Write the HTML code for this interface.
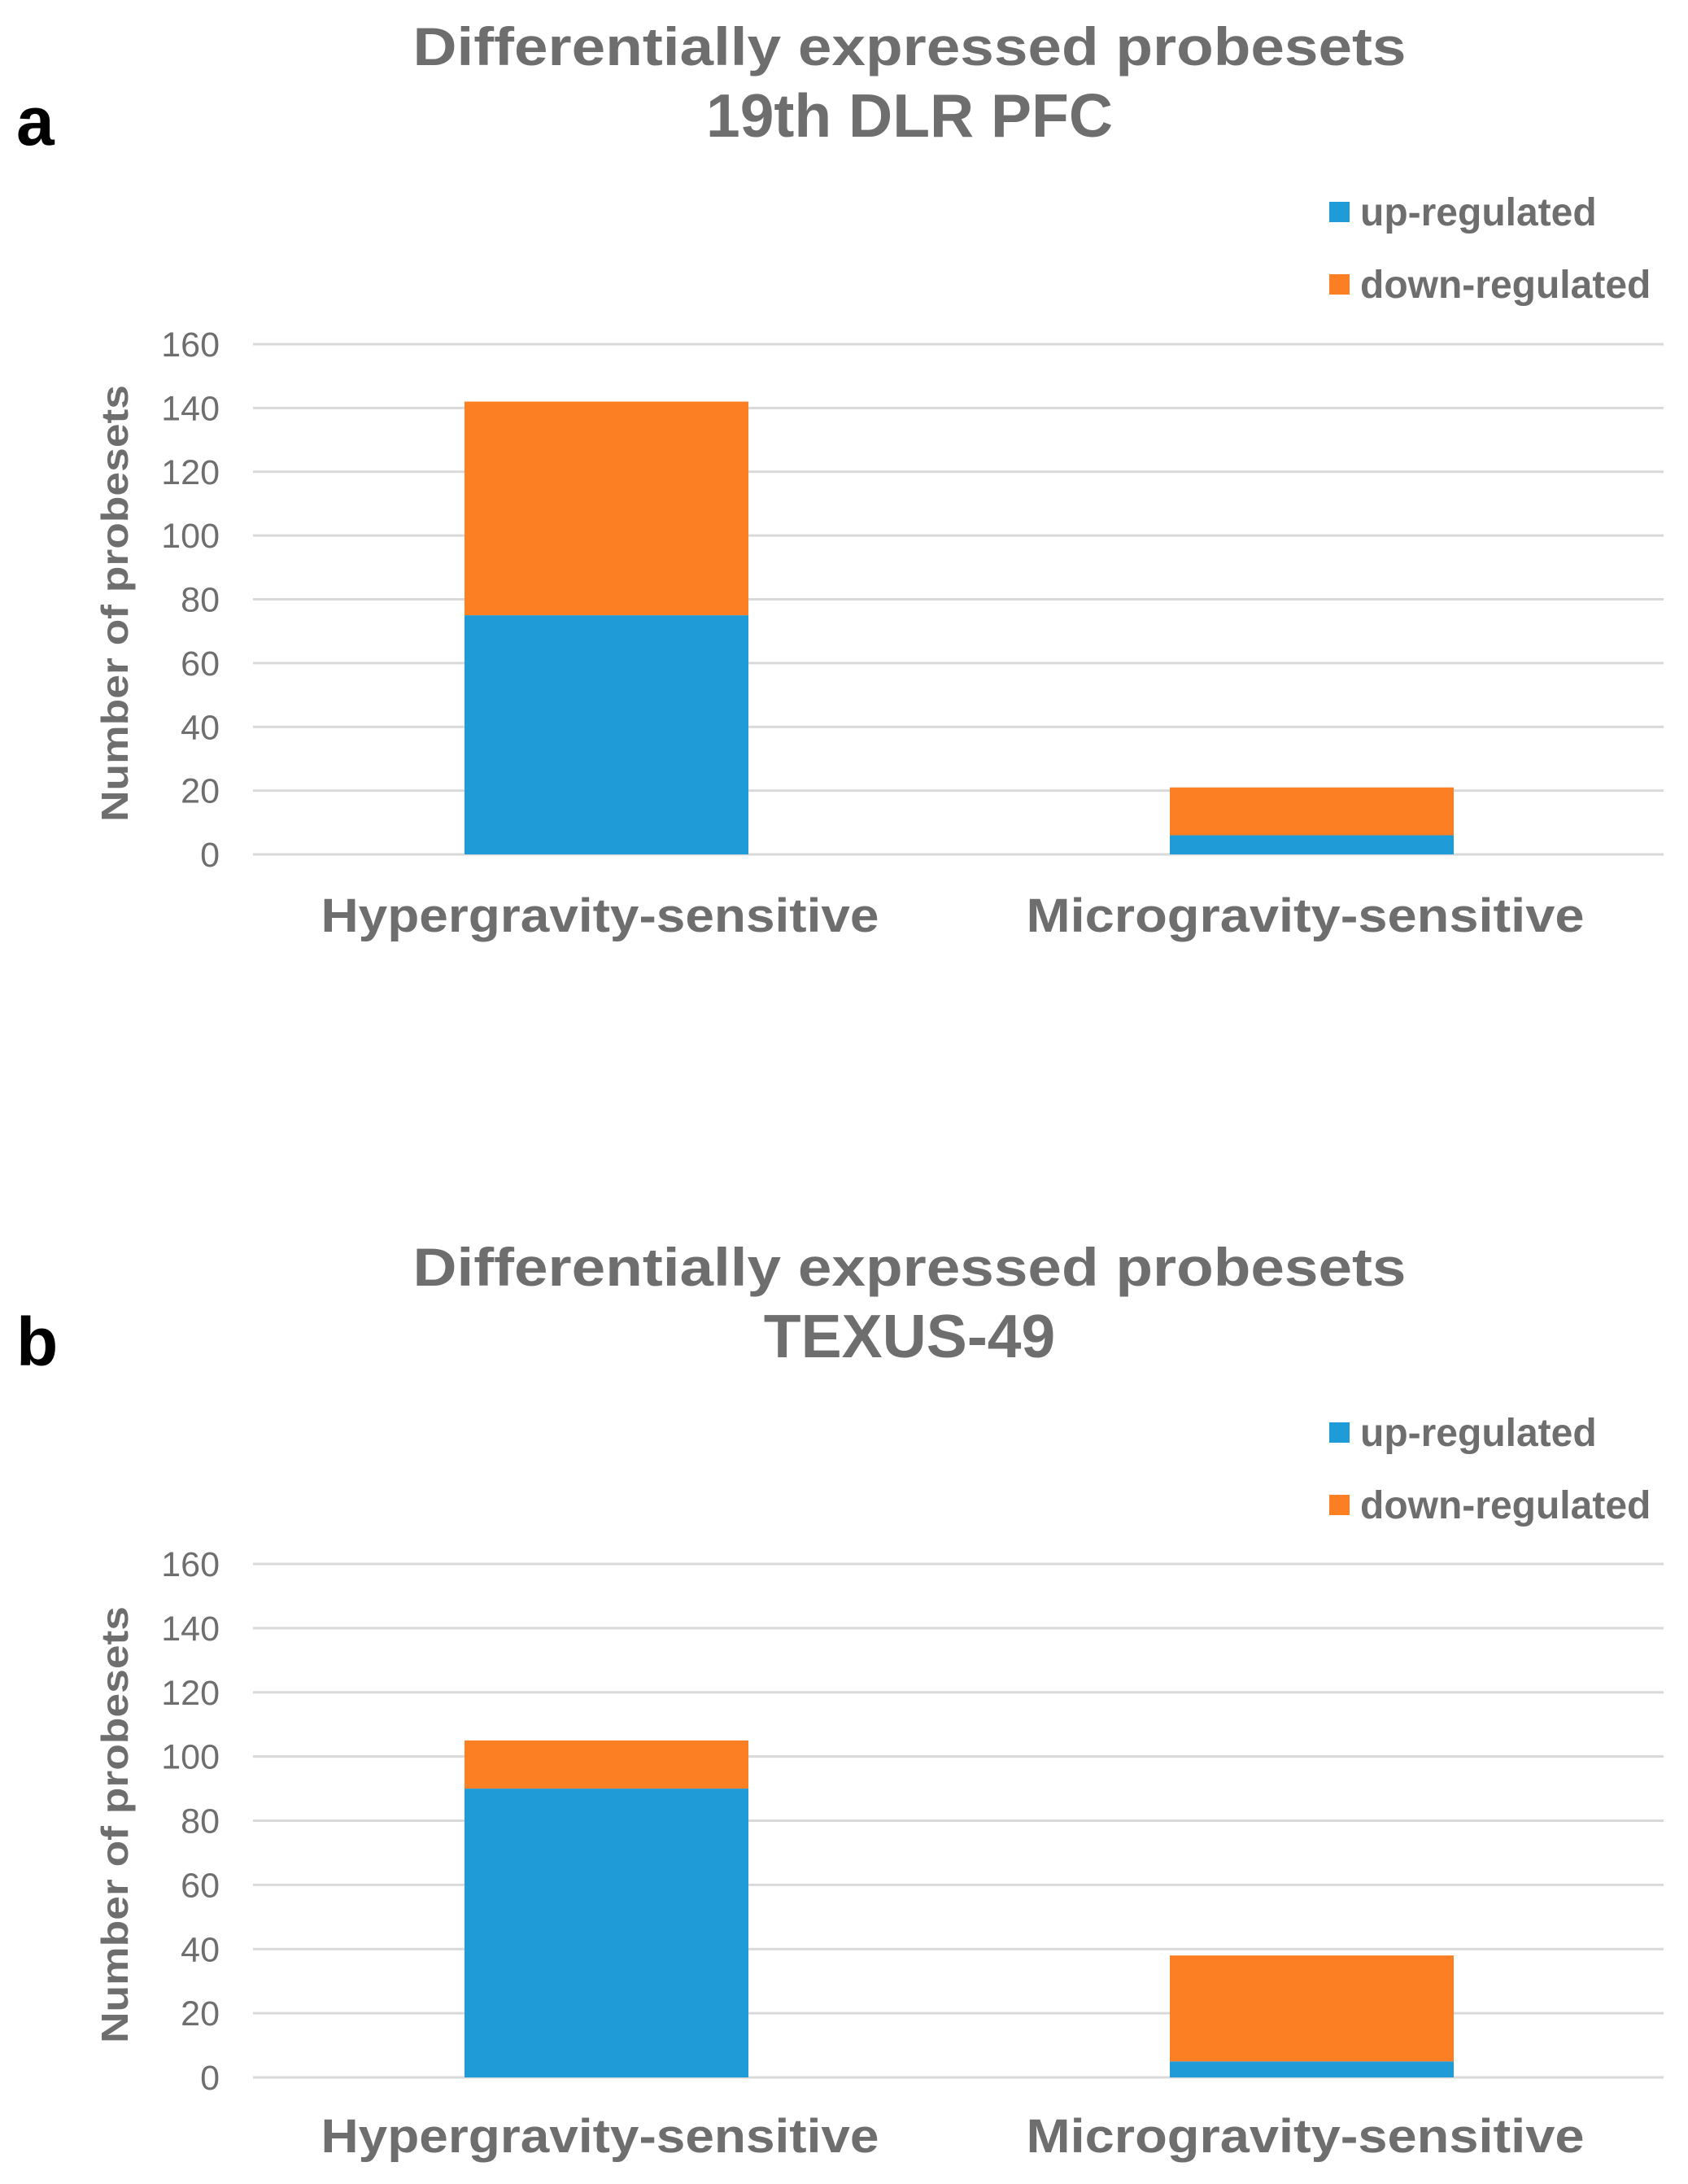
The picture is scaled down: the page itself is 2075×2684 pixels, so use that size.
<!DOCTYPE html>
<html><head><meta charset="utf-8"><style>
html,body{margin:0;padding:0;background:#fff}
svg{display:block;font-family:"Liberation Sans",Arial,sans-serif}
</style></head><body>
<svg id="fig" width="2075" height="2684" viewBox="0 0 2075 2684" xmlns="http://www.w3.org/2000/svg"></svg>
<script>
const categories = ["Hypergravity-sensitive", "Microgravity-sensitive"];
const upA = [75, 6];
const downA = [67, 15];
const upB = [90, 5];
const downB = [15, 33];
const yTicks = [0, 20, 40, 60, 80, 100, 120, 140, 160];
const seriesNames = ["up-regulated", "down-regulated"];

const NS = "http://www.w3.org/2000/svg";
const svg = document.getElementById("fig");
const BLUE = "#1f9bd8", ORANGE = "#fd7f23", GRAY = "#6e6e6e", GRID = "#d9d9d9";
function mk(tag, attrs, parent) {
  const e = document.createElementNS(NS, tag);
  for (const k in attrs) e.setAttribute(k, attrs[k]);
  (parent || svg).appendChild(e);
  return e;
}
function chart(off, y0, y160, letter, subtitle, up, down, key) {
  const g = mk("g", {});
  
  
  const yScale = v => y0 + (y160 - y0) * v / 160;
  const x0 = 311, x1 = 2045;
  const band = (x1 - x0) / categories.length;
  const barW = 349;
  const xCenter = i => x0 + band * (i + 0.5) + 1;

  let t = mk("text", {x: 20, y: off + 178, "font-size": 84, "font-weight": "bold", fill: "#000"}, g);
  t.textContent = letter;
  
  

  t = mk("text", {x: 1118, y: off + 80, "font-size": 66, "font-weight": "bold", fill: GRAY, "text-anchor": "middle", textLength: 1221, lengthAdjust: "spacingAndGlyphs"}, g);
  t.textContent = "Differentially expressed probesets";
  
  
  t = mk("text", {x: 1118, y: off + 168, "font-size": 75, "font-weight": "bold", fill: GRAY, "text-anchor": "middle"}, g);
  t.textContent = subtitle;
  
  

  [BLUE, ORANGE].forEach((c, i) => {
    const ly = off + 261 + i * 89;
    const r = mk("rect", {x: 1634, y: ly - 13, width: 25, height: 25, fill: c}, g);
    
    
    const lt = mk("text", {x: 1672, y: ly + 16, "font-size": 48, "font-weight": "bold", fill: GRAY}, g);
    lt.textContent = seriesNames[i];
    
    
  });

  yTicks.forEach(v => {
    const y = yScale(v);
    const l = mk("line", {x1: x0, x2: x1, y1: y, y2: y, stroke: GRID, "stroke-width": 3}, g);
    
    
    const tl = mk("text", {x: 270, y: y + 15, "font-size": 43, fill: GRAY, "text-anchor": "end"}, g);
    tl.textContent = v;
    
    
  });

  const cy = (y0 + y160) / 2 + 5;
  t = mk("text", {x: 0, y: 0, "font-size": 46, "font-weight": "bold", fill: GRAY, "text-anchor": "middle", transform: `translate(157 ${cy}) rotate(-90)`, textLength: 537, lengthAdjust: "spacingAndGlyphs"}, g);
  t.textContent = "Number of probesets";
  
  

  categories.forEach((c, i) => {
    const xc = xCenter(i);
    const bu = mk("rect", {x: xc - barW / 2, y: yScale(up[i]), width: barW, height: y0 - yScale(up[i]), fill: BLUE}, g);
    
    
    const bd = mk("rect", {x: xc - barW / 2, y: yScale(up[i] + down[i]), width: barW, height: yScale(up[i]) - yScale(up[i] + down[i]), fill: ORANGE}, g);
    
    
    const cl = mk("text", {x: xc - 8, y: off + 1145, "font-size": 58, "font-weight": "bold", fill: GRAY, "text-anchor": "middle", textLength: 686, lengthAdjust: "spacingAndGlyphs"}, g);
    cl.textContent = c;
    
    
  });
}
chart(0, 1050, 423, "a", "19th DLR PFC", upA, downA, "a");
chart(1500, 2553, 1922, "b", "TEXUS-49", upB, downB, "b");
</script>
</body></html>
